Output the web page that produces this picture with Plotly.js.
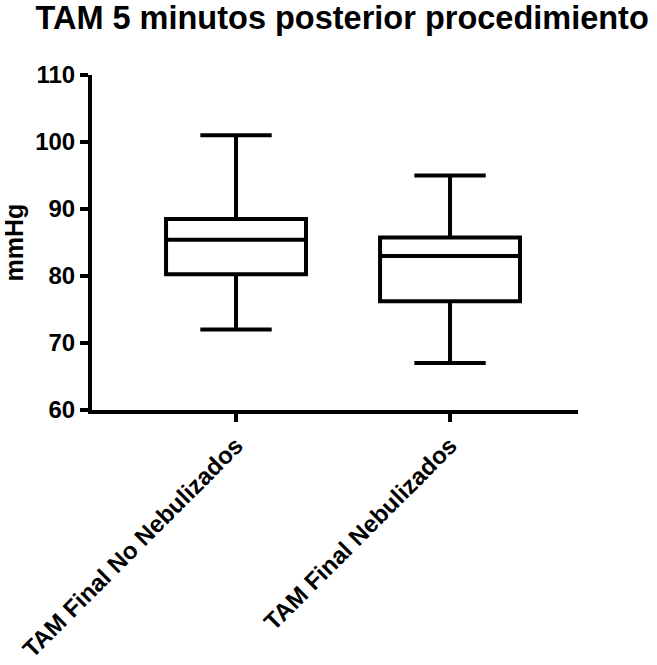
<!DOCTYPE html>
<html>
<head>
<meta charset="utf-8">
<script src="https://cdn.plot.ly/plotly-3.0.1.min.js"></script>
<style>html,body{margin:0;padding:0;background:#fff;}#chart{width:657px;height:665px;}</style>
</head>
<body>
<div id="chart"></div>
<script>
// Data
const categories = ["TAM Final No Nebulizados", "TAM Final Nebulizados"];
const minValues    = [72, 67];
const q1Values     = [80.25, 76.25];
const medianValues = [85.4, 83];
const q3Values     = [88.5, 85.75];
const maxValues    = [101, 95];
const yTickVals = [60, 70, 80, 90, 100, 110];

const FONT = '"Liberation Sans", Arial, Helvetica, sans-serif';
const positions = categories.map((c, i) => i);

const trace = {
  type: 'box',
  x: positions,
  q1: q1Values,
  median: medianValues,
  q3: q3Values,
  lowerfence: minValues,
  upperfence: maxValues,
  width: 0.654,
  whiskerwidth: 0.51,
  boxpoints: false,
  fillcolor: '#ffffff',
  line: {color: '#000000', width: 4},
  hoverinfo: 'skip',
  showlegend: false
};

const layout = {
  width: 657,
  height: 665,
  margin: {l: 92, r: 79, t: 75, b: 255},
  paper_bgcolor: '#ffffff',
  plot_bgcolor: '#ffffff',
  font: {family: FONT, color: '#000000'},
  title: {
    text: '<b>TAM 5 minutos posterior procedimiento</b>',
    font: {family: FONT, size: 32.5, color: '#000000'},
    x: 0.054, xref: 'container', xanchor: 'left',
    y: 0.99, yref: 'container', yanchor: 'top'
  },
  xaxis: {
    range: [-0.673, 1.598],
    tickmode: 'array',
    tickvals: positions,
    ticktext: categories.map(c => '<b>' + c + '</b>'),
    tickangle: -45,
    tickfont: {family: FONT, size: 24, color: '#000000'},
    ticks: 'outside', ticklen: 8, tickwidth: 4, tickcolor: '#000000',
    showline: true, linecolor: '#000000', linewidth: 4,
    showgrid: false, zeroline: false, fixedrange: true
  },
  yaxis: {
    range: [60, 110],
    tickmode: 'array',
    tickvals: yTickVals,
    ticktext: yTickVals.map(v => '<b>' + v + '</b>'),
    tickfont: {family: FONT, size: 24, color: '#000000'},
    ticks: 'outside', ticklen: 8, tickwidth: 4, tickcolor: '#000000',
    showline: true, linecolor: '#000000', linewidth: 4,
    showgrid: false, zeroline: false, fixedrange: true,
    title: {text: '<b>mmHg</b>', font: {family: FONT, size: 25, color: '#000000'}, standoff: 8}
  },
  shapes: [{
    type: 'line', xref: 'paper', yref: 'y',
    x0: -0.019, x1: 0, y0: 60, y1: 60,
    line: {color: '#000000', width: 4}
  }]
};

Plotly.newPlot('chart', [trace], layout, {displayModeBar: false, staticPlot: true});
</script>
</body>
</html>
